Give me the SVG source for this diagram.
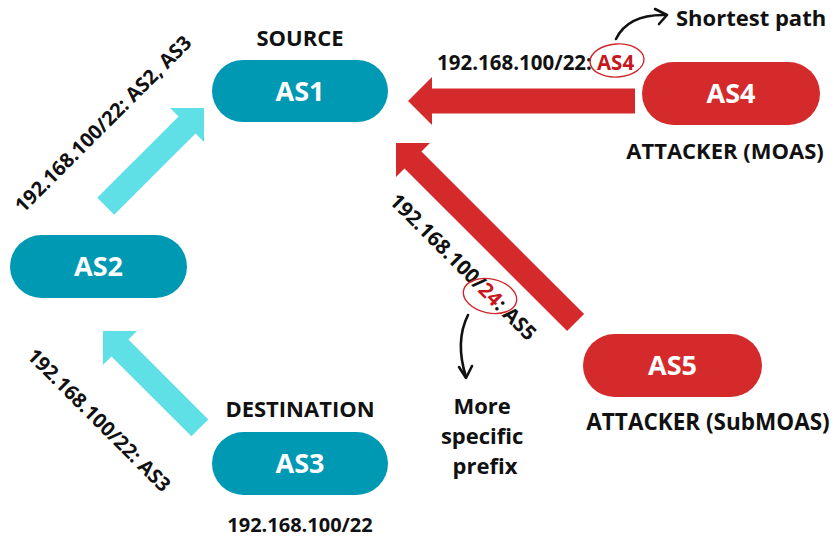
<svg xmlns="http://www.w3.org/2000/svg" width="834" height="538" viewBox="0 0 834 538">
  <defs>
    <style>
      text { font-family: "Open Sans", "Liberation Sans", sans-serif; font-weight: 700; fill: #111; }
      .node-teal { fill: #0099b3; }
      .node-red { fill: #d52a2b; }
      .node-label { fill: #fff; font-size: 27px; text-anchor: middle; }
      .title { font-size: 22px; text-anchor: middle; }
      .route { font-size: 20px; }
      .note { font-size: 22px; }
      .hi { fill: #c8161d; }
      .flow-red { fill: #d52a2b; }
      .flow-cyan { fill: #5ee0e6; }
      .note-ring { fill: none; stroke: #d0272b; stroke-width: 1.4; }
      .pointer { fill: none; stroke: #111; stroke-width: 2.6; stroke-linecap: round; stroke-linejoin: round; }
    </style>
  </defs>

  <rect width="834" height="538" fill="#fff"/>

  <!-- connectors: block arrows, tip at the local origin pointing left -->
  <g id="connectors">
    <polygon class="flow-red" transform="translate(408,101)" points="0,0 24,-24 24,-12.5 227,-12.5 227,12.5 24,12.5 24,24"/>
    <polygon class="flow-red" transform="translate(396,143) rotate(45)" points="0,0 24,-24 24,-12 254,-12 254,12 24,12 24,24"/>
    <polygon class="flow-cyan" transform="translate(204,108) rotate(135)" points="0,0 24,-24 24,-12 139,-12 139,12 24,12 24,24"/>
    <polygon class="flow-cyan" transform="translate(103,331) rotate(45)" points="0,0 24,-24 24,-12 137,-12 137,12 24,12 24,24"/>

    <!-- annotation pointers -->
    <path class="pointer" d="M616,39 Q628,14 666,15"/>
    <path class="pointer" d="M655,9 L667,15 L659,24"/>
    <path class="pointer" d="M468,315 C458,335 460,358 466,377"/>
    <path class="pointer" d="M459,367 L466,378 L472,366"/>
  </g>

  <!-- nodes -->
  <g id="as1">
    <text class="title" x="300" y="46">SOURCE</text>
    <rect class="node-teal" x="212" y="60" width="176" height="62" rx="31"/>
    <text class="node-label" x="300" y="101">AS1</text>
  </g>
  <g id="as2">
    <rect class="node-teal" x="10" y="235" width="177" height="63" rx="31.5"/>
    <text class="node-label" x="98.5" y="276">AS2</text>
  </g>
  <g id="as3">
    <text class="title" x="300" y="417">DESTINATION</text>
    <rect class="node-teal" x="212" y="432" width="176" height="63" rx="31.5"/>
    <text class="node-label" x="300" y="473">AS3</text>
    <text class="route" x="300" y="532" text-anchor="middle">192.168.100/22</text>
  </g>
  <g id="as4">
    <rect class="node-red" x="642" y="62" width="178" height="63" rx="31.5"/>
    <text class="node-label" x="731" y="103">AS4</text>
    <text class="title" x="725" y="159">ATTACKER (MOAS)</text>
  </g>
  <g id="as5">
    <rect class="node-red" x="583" y="334" width="179" height="63" rx="31.5"/>
    <text class="node-label" x="672.5" y="375">AS5</text>
    <text class="title" x="708" y="430" style="font-size:22.5px">ATTACKER (SubMOAS)</text>
  </g>

  <!-- route labels -->
  <g id="labels">
    <text class="route" transform="translate(108,129) rotate(-45)" text-anchor="middle">192.168.100/22: AS2, AS3</text>
    <text class="route" transform="translate(94,425) rotate(45)" text-anchor="middle">192.168.100/22: AS3</text>
    <text class="route" x="437" y="70" style="font-size:20.5px">192.168.100/22:<tspan class="hi" dx="5">AS4</tspan></text>
    <ellipse class="note-ring" cx="617" cy="60.5" rx="27" ry="16.5" transform="rotate(-4 617 60.5)"/>
    <text class="route" transform="translate(458,272) rotate(45)" text-anchor="middle" style="font-size:20.5px">192.168.100/<tspan class="hi">24</tspan>: AS5</text>
    <ellipse class="note-ring" cx="490" cy="296" rx="27" ry="17" transform="rotate(12 490 296)"/>

    <text class="note" x="676" y="26">Shortest path</text>
    <text class="note" text-anchor="middle">
      <tspan x="485" y="414">More</tspan>
      <tspan x="485" y="444">specific</tspan>
      <tspan x="485" y="474">prefix</tspan>
    </text>
  </g>
</svg>
